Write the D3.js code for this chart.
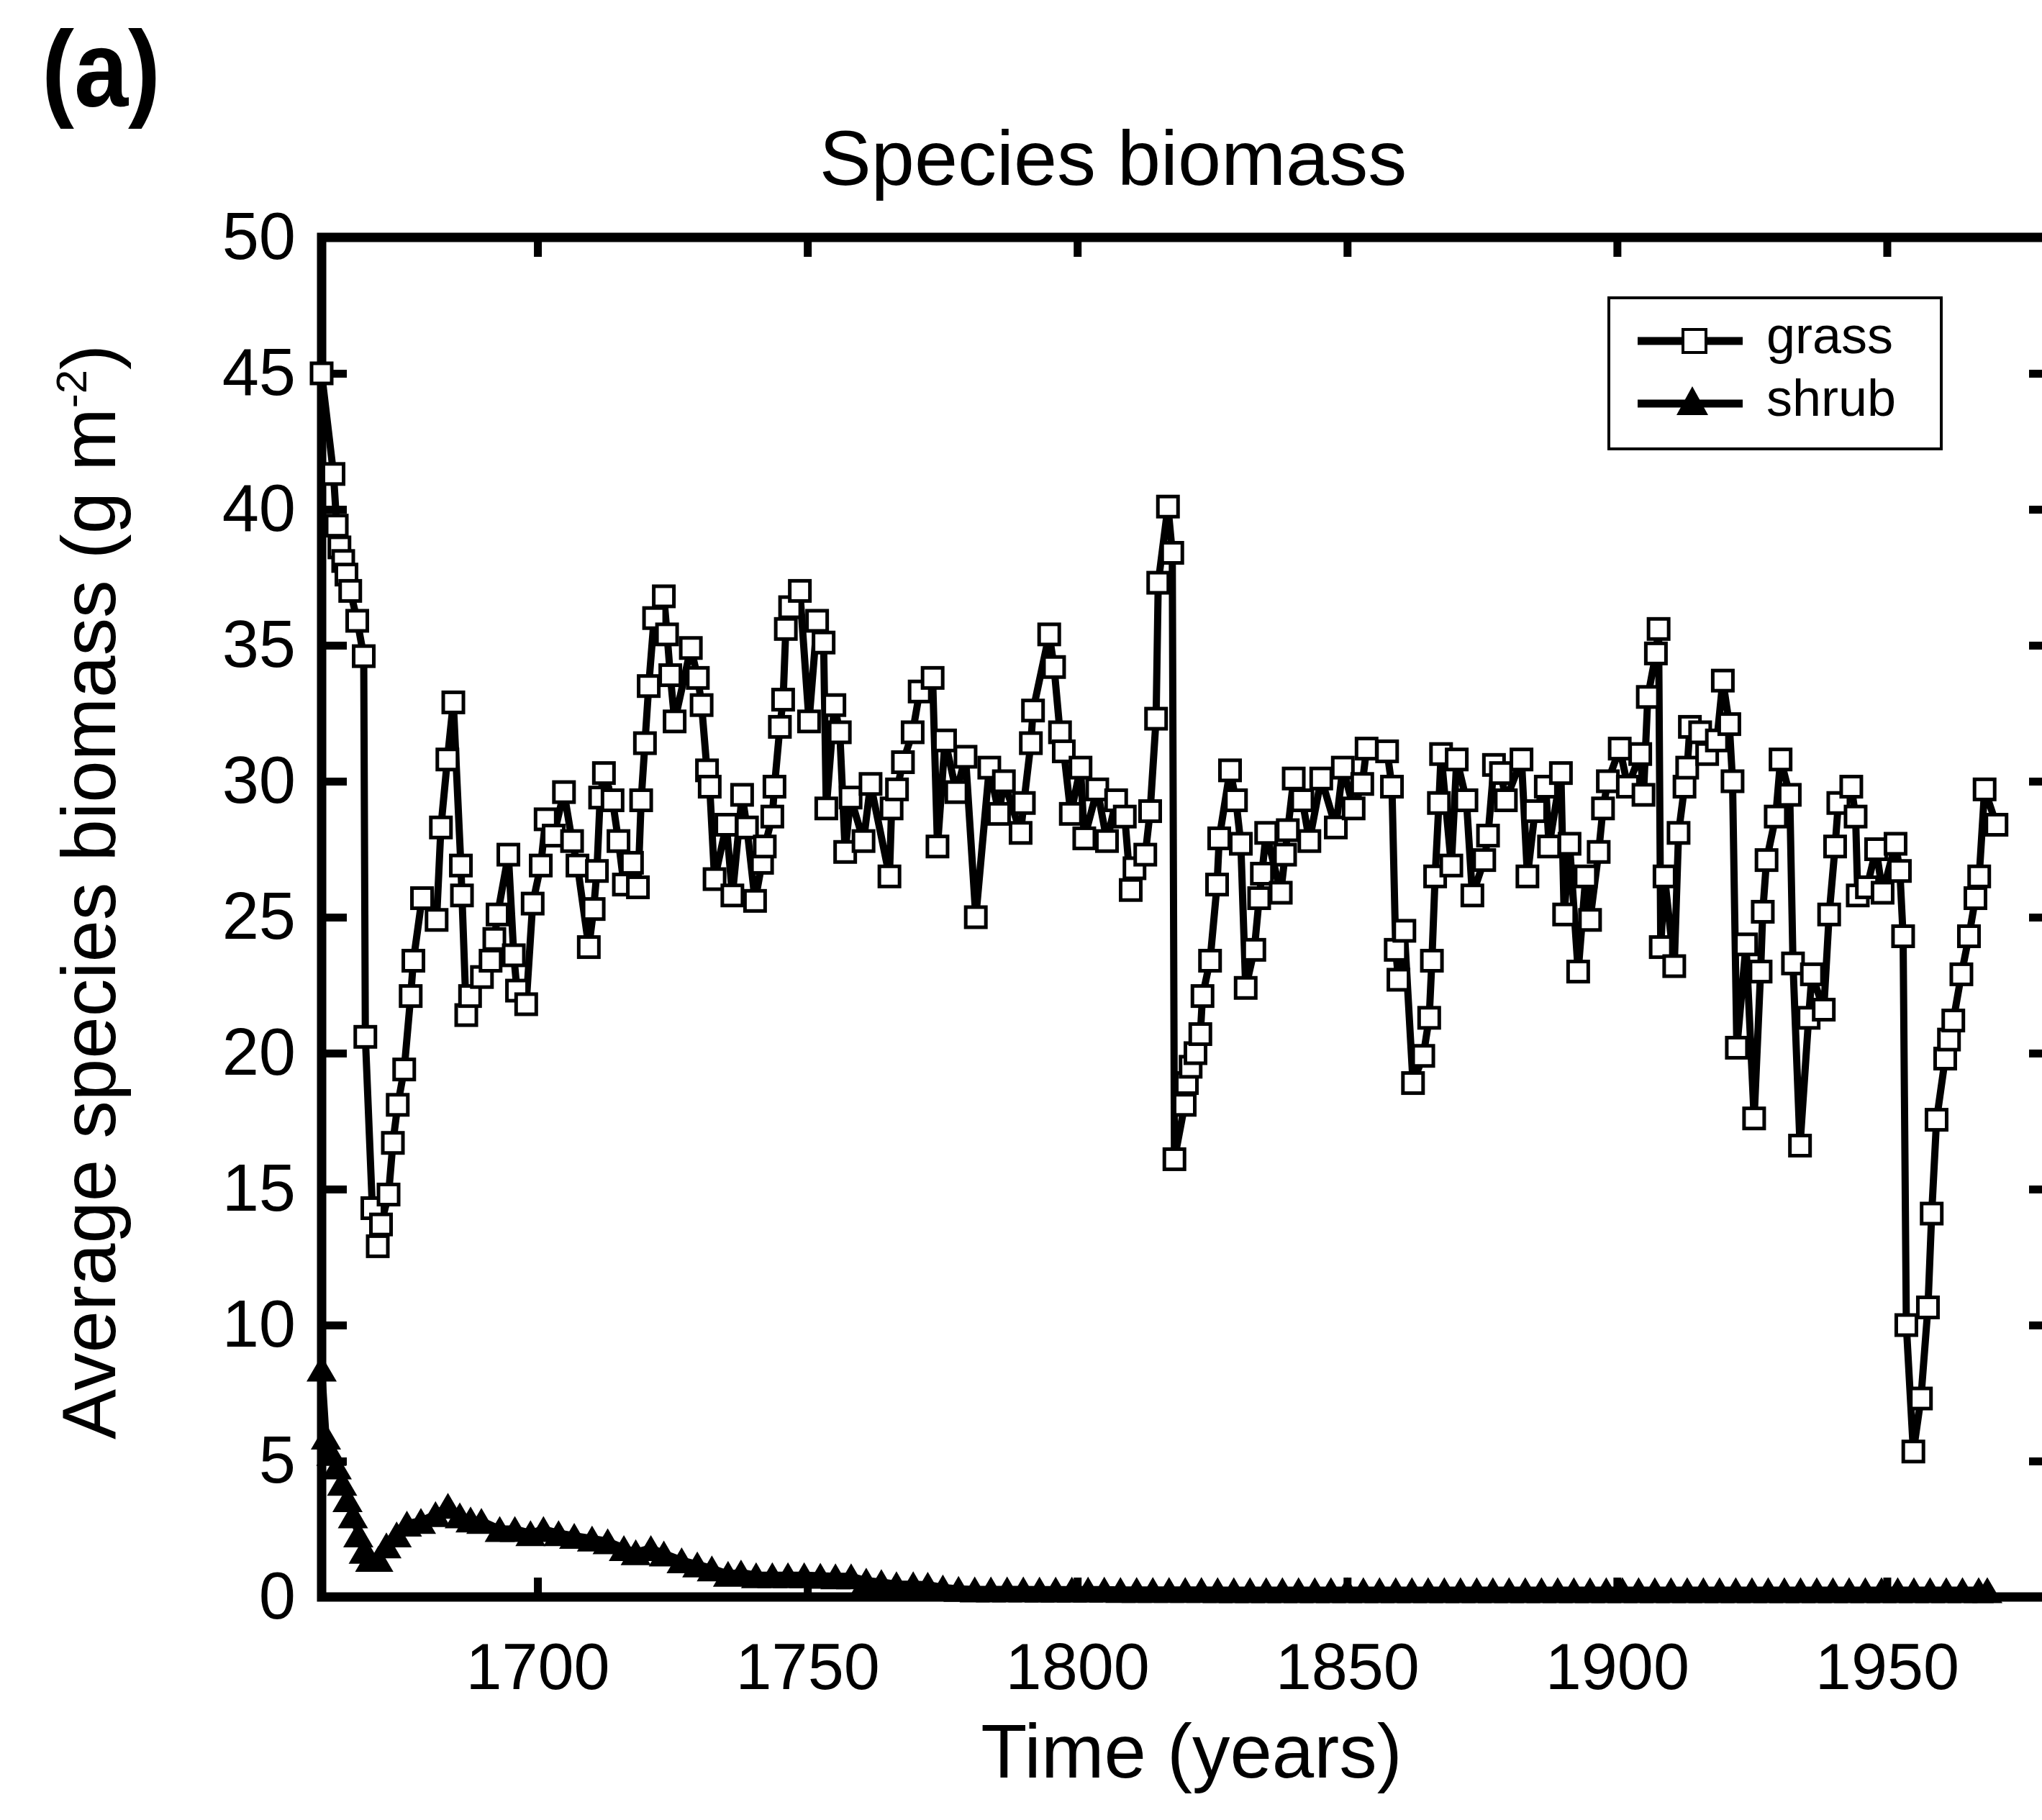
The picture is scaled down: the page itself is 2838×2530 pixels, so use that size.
<!DOCTYPE html>
<html lang="en">
<head>
<meta charset="UTF-8">
<script src="https://d3js.org/d3.v7.min.js"></script>
<style>
  body { margin: 0; background: #fff; }
  svg { display: block; font-family: "Liberation Sans", Arial, Helvetica, sans-serif; }
</style>
</head>
<body>
<div id="chart"></div>
<script>
// grass biomass, [year, g m-2]
const grassPts = [
  [1660.0,45.0],[1662.2,41.3],[1662.8,39.4],[1663.3,38.6],[1664.0,38.1],[1664.6,37.6],[1665.3,37.0],
  [1666.6,35.9],[1667.8,34.6],[1668.1,20.6],[1669.4,14.3],[1670.4,12.9],[1671.0,13.7],[1672.4,14.8],
  [1673.2,16.7],[1674.1,18.1],[1675.3,19.4],[1676.5,22.1],[1677.0,23.4],[1678.6,25.7],[1681.3,24.9],
  [1682.1,28.3],[1683.3,30.8],[1684.4,32.9],[1685.8,26.9],[1686.0,25.8],[1686.8,21.4],[1687.5,22.1],
  [1689.7,22.8],[1691.3,23.4],[1692.0,24.2],[1692.6,25.1],[1694.6,27.3],[1695.6,23.6],[1696.2,22.3],
  [1697.9,21.8],[1699.1,25.5],[1700.6,26.9],[1701.5,28.6],[1703.0,28.0],[1704.9,29.6],[1706.4,27.8],
  [1707.4,26.9],[1709.5,23.9],[1710.4,25.3],[1711.0,26.7],[1711.6,29.4],[1712.3,30.3],[1713.9,29.3],
  [1715.0,27.8],[1716.0,26.2],[1717.5,27.0],[1718.6,26.1],[1719.2,29.3],[1719.9,31.4],[1720.6,33.5],
  [1721.6,36.0],[1723.4,36.8],[1724.0,35.4],[1724.6,33.9],[1725.4,32.2],[1728.4,34.9],[1729.7,33.8],
  [1730.4,32.8],[1731.4,30.4],[1731.9,29.8],[1732.8,26.4],[1735.0,28.4],[1736.1,25.8],[1737.9,29.5],
  [1738.8,28.3],[1740.3,25.6],[1741.6,27.0],[1742.1,27.6],[1743.5,28.7],[1743.9,29.8],[1744.9,32.0],
  [1745.5,33.0],[1746.0,35.6],[1746.8,36.4],[1748.6,37.0],[1750.3,32.2],[1751.8,35.9],[1753.0,35.1],
  [1753.5,29.0],[1755.0,32.8],[1756.0,31.8],[1757.0,27.4],[1758.0,29.4],[1760.4,27.8],[1761.7,29.9],
  [1765.2,26.5],[1765.6,29.0],[1766.6,29.7],[1767.7,30.7],[1769.5,31.8],[1770.8,33.3],[1773.2,33.8],
  [1774.1,27.6],[1775.5,31.5],[1777.6,29.6],[1779.3,30.9],[1781.2,25.0],[1783.7,30.5],[1785.5,28.8],
  [1786.4,30.0],[1789.5,28.1],[1790.1,29.2],[1791.4,31.4],[1791.8,32.6],[1794.8,35.4],[1795.7,34.2],
  [1796.8,31.8],[1797.5,31.1],[1798.8,28.8],[1800.6,30.5],[1801.3,27.9],[1803.7,29.7],[1805.5,27.8],
  [1807.2,29.3],[1808.8,28.7],[1809.9,26.0],[1810.6,26.8],[1812.6,27.3],[1813.5,28.9],[1814.6,32.3],
  [1815.0,37.3],[1816.8,40.1],[1817.6,38.4],[1818.0,16.1],[1819.9,18.1],[1820.3,18.9],[1821.0,19.5],
  [1821.9,20.0],[1822.8,20.7],[1823.2,22.1],[1824.6,23.4],[1825.9,26.2],[1826.3,27.9],[1828.3,30.4],
  [1829.4,29.3],[1830.3,27.7],[1831.2,22.4],[1832.8,23.8],[1833.7,25.7],[1834.2,26.6],[1835.0,28.1],
  [1837.7,25.9],[1838.5,27.3],[1839.0,28.2],[1840.1,30.1],[1841.7,29.3],[1843.0,27.8],[1845.2,30.1],
  [1847.9,28.3],[1849.2,30.5],[1851.2,29.0],[1852.8,29.9],[1853.6,31.2],[1857.4,31.1],[1858.3,29.8],
  [1859.0,23.8],[1859.5,22.7],[1860.6,24.5],[1862.2,18.9],[1864.1,19.9],[1865.2,21.3],[1865.7,23.4],
  [1866.3,26.5],[1867.0,29.2],[1867.4,31.0],[1869.3,26.9],[1870.3,30.8],[1872.1,29.3],[1873.2,25.8],
  [1875.4,27.1],[1876.1,28.0],[1877.2,30.6],[1878.5,30.3],[1879.4,29.3],[1882.3,30.8],[1883.4,26.5],
  [1884.8,28.9],[1886.8,29.8],[1887.4,27.6],[1889.6,30.3],[1890.2,25.1],[1891.2,27.7],[1892.8,23.0],
  [1894.2,26.5],[1895.0,24.9],[1896.6,27.4],[1897.4,29.0],[1898.3,30.0],[1900.5,31.2],[1902.0,29.8],
  [1904.3,31.0],[1904.9,29.5],[1905.7,33.1],[1907.2,34.7],[1907.7,35.6],[1908.1,23.9],[1908.8,26.5],
  [1910.6,23.2],[1911.4,28.1],[1912.5,29.8],[1913.0,30.5],[1913.5,32.0],[1915.4,31.8],[1916.7,31.0],
  [1918.5,31.5],[1919.6,33.7],[1920.8,32.1],[1921.4,30.0],[1922.2,20.2],[1923.9,24.0],[1925.4,17.6],
  [1926.6,23.0],[1927.0,25.2],[1927.7,27.1],[1929.4,28.7],[1930.3,30.8],[1932.0,29.5],[1932.6,23.3],
  [1933.9,16.6],[1935.5,21.3],[1936.1,22.9],[1938.3,21.6],[1939.3,25.1],[1940.4,27.6],[1941.0,29.2],
  [1943.4,29.8],[1944.2,28.7],[1944.6,25.8],[1946.3,26.1],[1948.0,27.5],[1949.2,25.9],[1951.6,27.7],
  [1952.4,26.7],[1953.0,24.3],[1953.6,10.0],[1954.9,5.35],[1956.3,7.3],[1957.6,10.65],[1958.3,14.1],
  [1959.2,17.55],[1960.8,19.8],[1961.5,20.5],[1962.3,21.2],[1963.8,22.9],[1965.2,24.3],[1966.4,25.7],
  [1967.1,26.5],[1968.1,29.7],[1970.3,28.4]
];

// shrub biomass, [year, g m-2]
const shrubPts = [
  [1660.0,8.4],[1660.8,5.9],[1661.8,5.3],[1662.8,4.8],[1663.8,4.2],[1664.8,3.6],[1665.8,3.0],
  [1666.8,2.3],[1667.8,1.7],[1669.0,1.4],[1670.5,1.4],[1672.0,1.9],[1673.9,2.3],[1675.8,2.7],
  [1678.4,2.8],[1681.1,3.05],[1683.4,3.35],[1685.6,3.0],[1687.6,2.85],[1689.6,2.8],[1693.0,2.5],
  [1695.8,2.5],[1698.7,2.35],[1701.1,2.5],[1703.9,2.35],[1706.8,2.25],[1710.1,2.15],[1713.0,2.05],
  [1716.0,1.8],[1718.2,1.65],[1721.0,1.8],[1723.4,1.6],[1726.7,1.35],[1729.6,1.2],[1732.3,1.05],
  [1735.3,0.85],[1737.7,0.9],[1740.5,0.8],[1743.5,0.8],[1746.4,0.8],[1749.4,0.8],[1752.4,0.78],
  [1755.2,0.76],[1758.1,0.76],[1760.9,0.6],[1763.7,0.55],[1766.5,0.47],[1769.6,0.47],[1772.3,0.45],
  [1775.1,0.35],[1778.0,0.3],[1781.0,0.28],[1784.0,0.28],[1787.0,0.28],[1790.0,0.28],[1793.0,0.27],
  [1796.0,0.27],[1799.0,0.27],[1802.0,0.27],[1805.0,0.27],[1808.0,0.26],[1811.0,0.26],[1814.0,0.26],
  [1817.0,0.26],[1820.0,0.26],[1823.0,0.26],[1826.0,0.25],[1829.0,0.25],[1832.0,0.25],[1835.0,0.25],
  [1838.0,0.25],[1841.0,0.25],[1844.0,0.25],[1847.0,0.25],[1850.0,0.25],[1853.0,0.25],[1856.0,0.25],
  [1859.0,0.25],[1862.0,0.25],[1865.0,0.25],[1868.0,0.25],[1871.0,0.25],[1874.0,0.25],[1877.0,0.25],
  [1880.0,0.25],[1883.0,0.25],[1886.0,0.25],[1889.0,0.25],[1892.0,0.25],[1895.0,0.25],[1898.0,0.25],
  [1901.0,0.25],[1904.0,0.25],[1907.0,0.25],[1910.0,0.25],[1913.0,0.25],[1916.0,0.25],[1919.0,0.25],
  [1922.0,0.25],[1925.0,0.25],[1928.0,0.25],[1931.0,0.25],[1934.0,0.25],[1937.0,0.25],[1940.0,0.25],
  [1943.0,0.25],[1946.0,0.25],[1949.0,0.25],[1952.0,0.25],[1955.0,0.25],[1958.0,0.25],[1961.0,0.25],
  [1964.0,0.25],[1967.0,0.25],[1968.6,0.25]
];

const xTicks = [1700, 1750, 1800, 1850, 1900, 1950];
const yTicks = [0, 5, 10, 15, 20, 25, 30, 35, 40, 45, 50];
const seriesNames = ["grass", "shrub"];

const W = 2838, H = 2530;
const FONT = '"Liberation Sans", Arial, Helvetica, sans-serif';

const svg = d3.select("#chart").append("svg")
  .attr("width", W).attr("height", H)
  .attr("viewBox", `0 0 ${W} ${H}`);

const x = d3.scaleLinear().domain([1660, 1981]).range([447, 2855]);
const y = d3.scaleLinear().domain([0, 50]).range([2220, 330]);

// triangle marker, apex up, centred on its box
function triPath(w, h) {
  return `M0,${-h / 2}L${w / 2},${h / 2}L${-w / 2},${h / 2}Z`;
}

// frame
svg.append("rect")
  .attr("x", x(1660)).attr("y", y(50))
  .attr("width", x(1981) - x(1660)).attr("height", y(0) - y(50))
  .attr("fill", "none").attr("stroke", "#000").attr("stroke-width", 13);

// axes (ticks inward)
const styleAxis = g => {
  g.select(".domain").remove();
  g.selectAll(".tick line").attr("stroke", "#000").attr("stroke-width", 11);
  g.selectAll(".tick text").attr("fill", "#000").attr("font-family", FONT);
};

svg.append("g")
  .attr("transform", `translate(0,${y(0)})`)
  .call(d3.axisBottom(x).tickValues(xTicks).tickFormat(d3.format("d")).tickSize(-27).tickPadding(64))
  .call(styleAxis)
  .call(g => g.selectAll(".tick text").attr("font-size", 90));

svg.append("g")
  .attr("transform", `translate(0,${y(50)})`)
  .call(d3.axisTop(x).tickValues(xTicks).tickSize(-27).tickFormat(""))
  .call(styleAxis);

svg.append("g")
  .attr("transform", `translate(${x(1660)},0)`)
  .call(d3.axisLeft(y).tickValues(yTicks).tickSize(-35).tickPadding(36))
  .call(styleAxis)
  .call(g => g.selectAll(".tick text").attr("font-size", 92));

svg.append("g")
  .attr("transform", `translate(${x(1981)},0)`)
  .call(d3.axisRight(y).tickValues(yTicks).tickSize(-35).tickFormat(""))
  .call(styleAxis);

// clip data to the plot frame
svg.append("clipPath").attr("id", "plotclip")
  .append("rect").attr("x", 380).attr("y", 300).attr("width", W).attr("height", 1960);

const plot = svg.append("g").attr("clip-path", "url(#plotclip)");

const line = d3.line().x(d => x(d[0])).y(d => y(d[1]));

// shrub
plot.append("path").datum(shrubPts)
  .attr("d", line).attr("fill", "none")
  .attr("stroke", "#000").attr("stroke-width", 10).attr("stroke-linejoin", "bevel");
plot.selectAll(".shrub").data(shrubPts).join("path")
  .attr("class", "shrub")
  .attr("transform", d => `translate(${x(d[0])},${y(d[1])})`)
  .attr("d", triPath(42, 36))
  .attr("fill", "#000");

// grass
plot.append("path").datum(grassPts)
  .attr("d", line).attr("fill", "none")
  .attr("stroke", "#000").attr("stroke-width", 10).attr("stroke-linejoin", "bevel");
plot.selectAll(".grass").data(grassPts).join("rect")
  .attr("class", "grass")
  .attr("x", d => x(d[0]) - 14).attr("y", d => y(d[1]) - 14)
  .attr("width", 28).attr("height", 28)
  .attr("fill", "#fff").attr("stroke", "#000").attr("stroke-width", 5);

// legend
const lg = svg.append("g");
lg.append("rect")
  .attr("x", 2236).attr("y", 414).attr("width", 462).attr("height", 210)
  .attr("fill", "#fff").attr("stroke", "#000").attr("stroke-width", 4);
const rows = [474, 561];
seriesNames.forEach((name, i) => {
  const ry = rows[i];
  lg.append("line")
    .attr("x1", 2276).attr("x2", 2422).attr("y1", ry).attr("y2", ry)
    .attr("stroke", "#000").attr("stroke-width", 11);
  if (i === 0) {
    lg.append("rect")
      .attr("x", 2339).attr("y", ry - 16).attr("width", 32).attr("height", 32)
      .attr("fill", "#fff").attr("stroke", "#000").attr("stroke-width", 4);
  } else {
    lg.append("path")
      .attr("transform", `translate(2352,${ry - 4})`)
      .attr("d", triPath(44, 40)).attr("fill", "#000");
  }
  lg.append("text")
    .attr("x", 2455).attr("y", ry + 17)
    .attr("font-family", FONT).attr("font-size", 72)
    .text(name);
});

// titles
svg.append("text")
  .attr("x", 58).attr("y", 148)
  .attr("font-family", FONT).attr("font-size", 150).attr("font-weight", "bold")
  .attr("textLength", 165).attr("lengthAdjust", "spacingAndGlyphs")
  .text("(a)");

svg.append("text")
  .attr("x", 1547).attr("y", 257)
  .attr("text-anchor", "middle")
  .attr("font-family", FONT).attr("font-size", 108)
  .text("Species biomass");

svg.append("text")
  .attr("x", 1656).attr("y", 2471)
  .attr("text-anchor", "middle")
  .attr("font-family", FONT).attr("font-size", 105)
  .text("Time (years)");

const yl = svg.append("text")
  .attr("transform", "translate(160,1240) rotate(-90)")
  .attr("text-anchor", "middle")
  .attr("font-family", FONT).attr("font-size", 105);
yl.append("tspan").text("Average species biomass (g m");
yl.append("tspan").attr("font-size", 60).attr("dy", -40).text("-2");
yl.append("tspan").attr("dy", 40).text(")");
</script>
</body>
</html>
